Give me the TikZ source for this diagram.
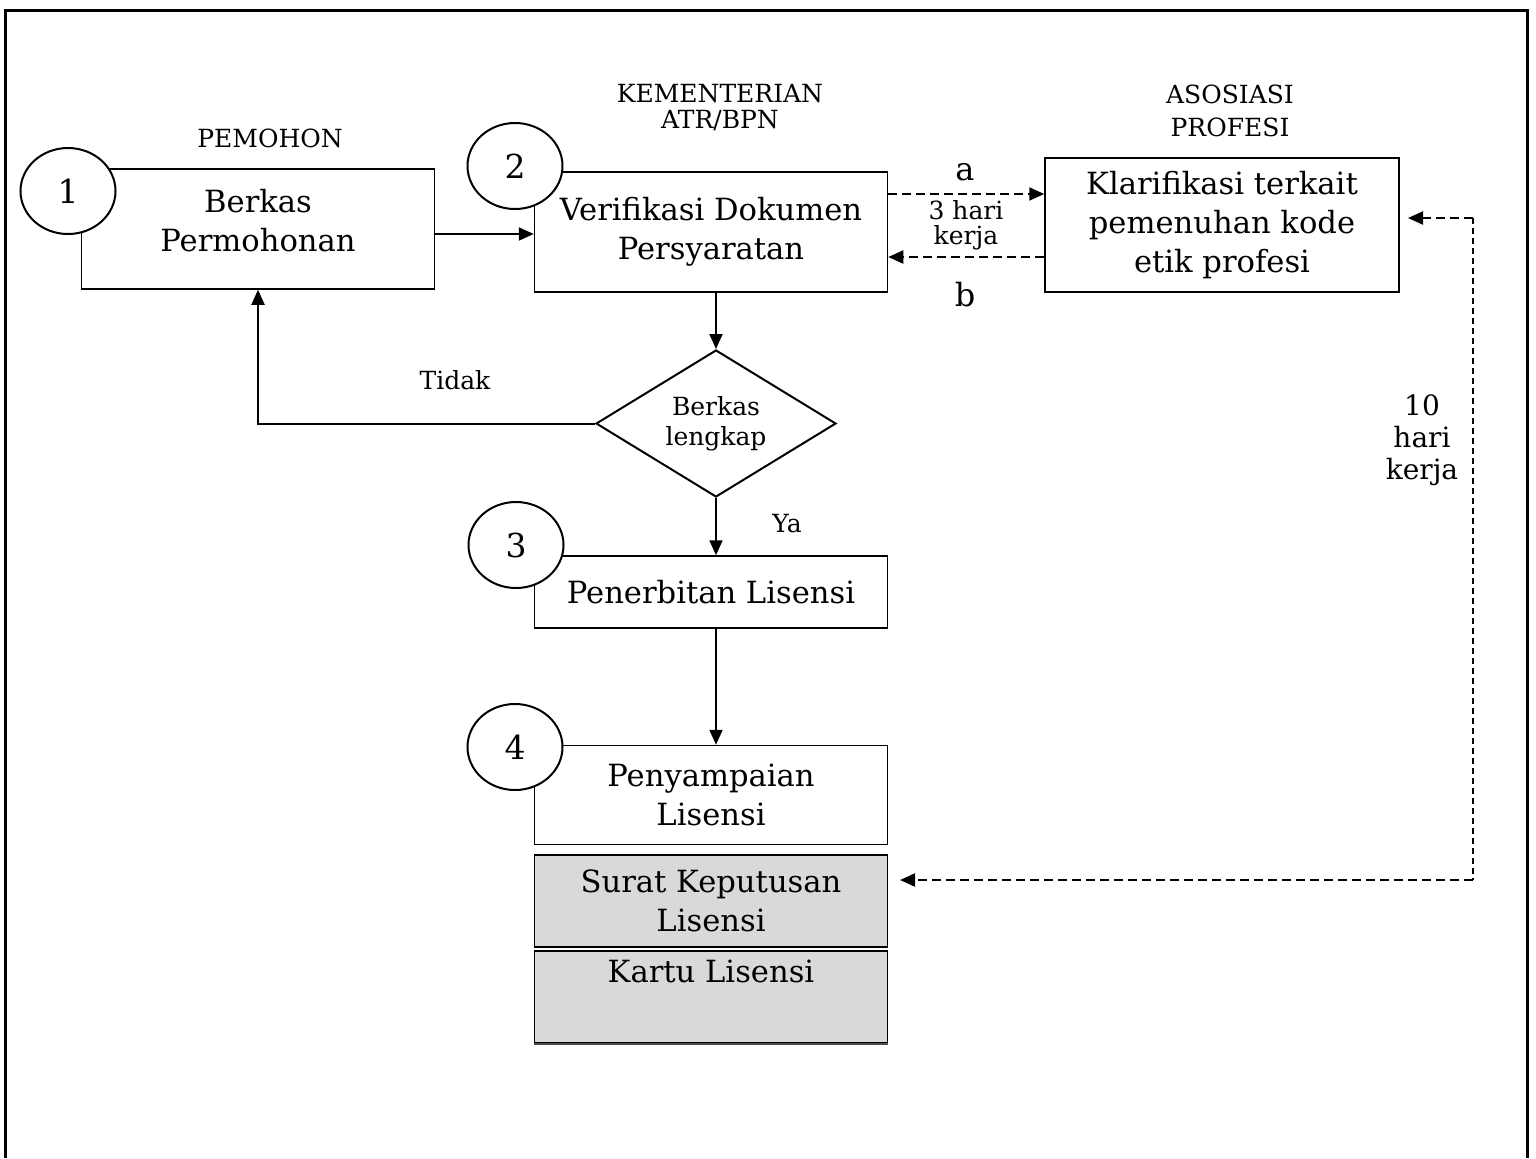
\documentclass[tikz,border=0pt]{standalone}
\usepackage{fontspec}
\setmainfont{DejaVu Serif}
\usetikzlibrary{arrows.meta,shapes.geometric}
\definecolor{boxgray}{HTML}{D9D9D9}
\begin{document}
\begin{tikzpicture}[x=0.5pt,y=-0.5pt,
  boxfont/.style={font=\fontsize{15.3}{19.5}\selectfont},
  box/.style={draw, line width=0.75pt, align=center, inner sep=0pt, minimum width=176.5pt, boxfont},
  gbox/.style={box, fill=boxgray},
  num/.style={draw, ellipse, fill=white, line width=1pt, minimum width=47.5pt, minimum height=43pt, inner sep=0pt, font=\fontsize{16.5}{19}\selectfont},
  lbl/.style={align=center, inner sep=0pt, font=\fontsize{12.5}{13}\selectfont},
  arr/.style={-{Triangle[length=7.5pt,width=6.5pt]}, line width=1pt},
  darr/.style={arr, dash pattern=on 4.5pt off 2.5pt},
]
\useasboundingbox (0,0) rectangle (1536,1158);
% frame
\draw[line width=1.5pt] (5,1158) -- (5,10) -- (1527,10) -- (1527,1158);

% headers
\node[lbl] (hpem) at (270,138) {PEMOHON};
\node[lbl] (hkem) at (720,108) {KEMENTERIAN\\ATR/BPN};
\node[lbl, font=\fontsize{12.5}{16.5}\selectfont] (hasos) at (1230,111) {ASOSIASI\\PROFESI};

% boxes
\node[box, minimum height=60pt, label={[boxfont, align=center, inner sep=0pt, yshift=4pt]center:Berkas\\Permohonan}] (b1) at (258,229) {};
\node[box, minimum height=60pt] (b2) at (711,232) {Verifikasi Dokumen\\Persyaratan};
\node[box, minimum width=177pt, minimum height=67pt] (b3) at (1222,225) {Klarifikasi terkait\\pemenuhan kode\\etik profesi};
\node[draw, diamond, line width=1pt, minimum width=120pt, minimum height=73.5pt, shape aspect=1.6, inner sep=0pt, lbl, font=\fontsize{12.5}{15}\selectfont] (d) at (716,423.5) {Berkas\\lengkap};
\node[box, minimum height=36pt] (b4) at (711,592) {Penerbitan Lisensi};
\node[box, minimum height=49.5pt] (b5) at (711,795) {Penyampaian\\Lisensi};
\node[gbox, minimum height=46pt] (g1) at (711,901) {Surat Keputusan\\Lisensi};
\node[gbox, minimum height=46pt] (g2) at (711,997) {Kartu Lisensi\\\strut};
\draw[line width=0.8pt, black!70] (g2.south west) -- (g2.south east);

% number circles
\node[num] (c1) at (68,191) {1\hspace{10pt}};
\node[num] (c2) at (515,166) {2\hspace{10pt}};
\node[num] (c3) at (516,545) {3\hspace{10pt}};
\node[num] (c4) at (515,747) {4\hspace{10pt}};

% connectors
\draw[arr] (b1.east |- 0,234) -- (b2.west |- 0,234);
\draw[darr] (b2.east |- 0,194) -- (b3.west |- 0,194);
\draw[darr] (b3.west |- 0,257) -- (b2.east |- 0,257);
\node[lbl, font=\fontsize{16}{19}\selectfont] (la) at (965,172) {a};
\node[lbl, font=\fontsize{16}{19}\selectfont] (lb) at (965,295) {b};
\node[lbl, font=\fontsize{12.5}{12.5}\selectfont] (l3) at (966,225) {3 hari\\kerja};

\draw[arr] (d.north |- b2.south) -- (d.north);
\draw[arr] (d.west) -- (d.west -| b1.south) -- (b1.south);
\node[lbl] (ltidak) at (455,380) {Tidak};
\draw[arr] (d.south) -- (d.south |- b4.north);
\node[lbl] (lya) at (787,524) {Ya};
\draw[arr] (d.south |- b4.south) -- (d.south |- b5.north);

% long dashed connector
\coordinate (r1) at (1408,218);
\coordinate (k1) at (1473,218);
\coordinate (k2) at (1473,880);
\coordinate (r2) at (900,880);
\draw[darr] (k1) -- (r1);
\draw[line width=0.6pt, dash pattern=on 3pt off 2pt] (k1) -- (k2);
\draw[darr] (k2) -- (r2);
\node[lbl, font=\fontsize{14}{16}\selectfont] (l10) at (1422,440) {10\\hari\\kerja};
\end{tikzpicture}
\end{document}
